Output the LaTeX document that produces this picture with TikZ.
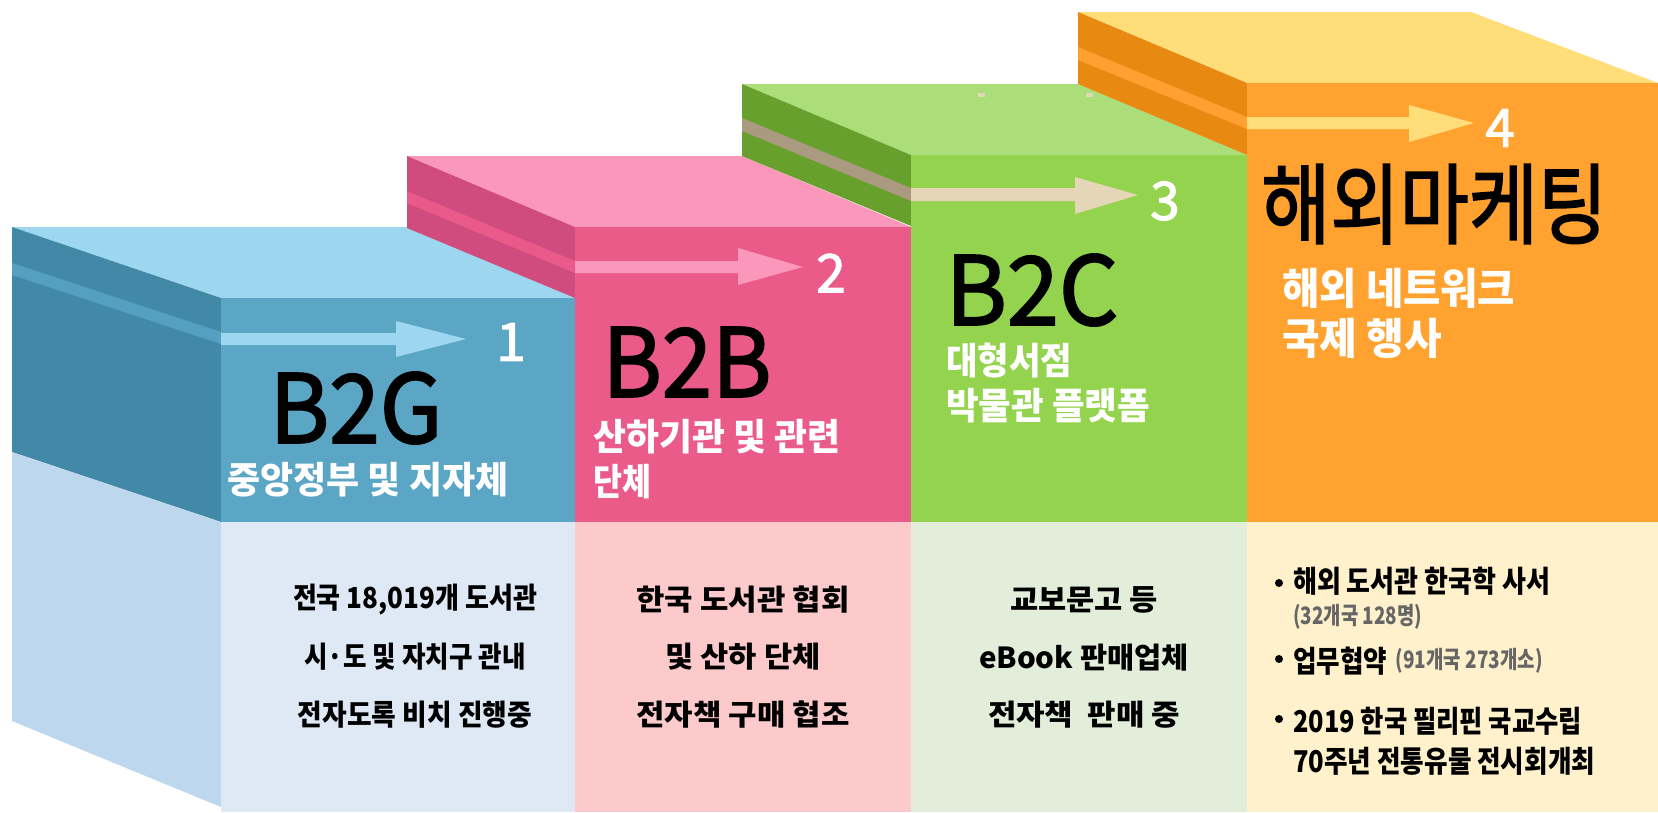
\documentclass[tikz,border=0pt]{standalone}
\usepackage{fontspec}
\setmainfont{Noto Sans CJK KR}
\newfontfamily\heavyfont[FakeBold=2]{Noto Sans CJK KR}
\usepackage{graphicx}
\usetikzlibrary{positioning}
\definecolor{bluetop}{HTML}{9DD7EF}
\definecolor{blueside}{HTML}{4289A8}
\definecolor{bluestripe}{HTML}{55A0C0}
\definecolor{bluefront}{HTML}{5BA5C5}
\definecolor{bluebase}{HTML}{DEE9F5}
\definecolor{bluebaseside}{HTML}{BDD7EE}
\definecolor{pinktop}{HTML}{FB97BB}
\definecolor{pinkside}{HTML}{D04C7E}
\definecolor{pinkstripe}{HTML}{E95A8A}
\definecolor{pinkfront}{HTML}{EA5B8A}
\definecolor{pinkbase}{HTML}{FCCACA}
\definecolor{greentop}{HTML}{ABDE78}
\definecolor{greenside}{HTML}{67A02C}
\definecolor{greenstripe}{HTML}{A99A80}
\definecolor{greenfront}{HTML}{93D34D}
\definecolor{greenarrow}{HTML}{E6D6B8}
\definecolor{greenbase}{HTML}{E2EED9}
\definecolor{orangetop}{HTML}{FFDE79}
\definecolor{orangeside}{HTML}{E88A12}
\definecolor{orangestripe}{HTML}{FFA030}
\definecolor{orangefront}{HTML}{FFA230}
\definecolor{orangebase}{HTML}{FFF1CC}
\definecolor{notegray}{HTML}{666666}
\newcommand{\fitw}[2]{\resizebox{#1pt}{\height}{#2}}
\tikzstyle{title} = [inner sep=0, font=\heavyfont\fontsize{95}{95}\selectfont]
\tikzstyle{num} = [inner sep=0, text=white, font=\heavyfont\fontsize{53}{53}\selectfont]
\tikzstyle{sub} = [inner sep=0, anchor=west, text=white, font=\bfseries\fontsize{37}{37}\selectfont]
\tikzstyle{note} = [inner sep=0, font=\bfseries\fontsize{29}{29}\selectfont]
\tikzstyle{item} = [inner sep=0, anchor=west, font=\bfseries\fontsize{30}{30}\selectfont]
\tikzstyle{itemgray} = [inner sep=0, anchor=west, text=notegray, font=\bfseries\fontsize{24}{24}\selectfont]

\begin{document}
\begin{tikzpicture}[x=1pt, y=-1pt]
\path[fill=white, use as bounding box] (0,0) rectangle (1658,812);

% B2G block
\fill[bluetop] (12,227) -- (407,227) -- (575,298) -- (221,298) -- cycle;
\fill[blueside] (12,227) -- (221,298) -- (221,522) -- (12,452) -- cycle;
\fill[bluestripe] (12,263) -- (221,332) -- (221,344) -- (12,275) -- cycle;
\fill[bluebaseside] (12,452) -- (221,522) -- (221,807) -- (12,721) -- cycle;
\fill[bluefront] (221,298) rectangle (575,522);
\fill[bluebase] (221,522) rectangle (575,812);
\fill[bluetop] (221,333) -- (396,333) -- (396,321) -- (466,339) -- (396,357) -- (396,345) -- (221,345) -- cycle;

% B2B block
\fill[pinktop] (407,156) -- (742,156) -- (911,227) -- (575,227) -- cycle;
\fill[pinkside] (407,156) -- (575,227) -- (575,298) -- (407,228) -- cycle;
\fill[pinkstripe] (407,191) -- (575,261) -- (575,273) -- (407,203) -- cycle;
\fill[pinkfront] (575,227) rectangle (911,522);
\fill[pinkbase] (575,522) rectangle (911,812);
\fill[pinktop] (575,261) -- (738,261) -- (738,248) -- (803,267) -- (738,285) -- (738,273) -- (575,273) -- cycle;

% B2C block
\fill[greentop] (742,84) -- (1078,84) -- (1247,155) -- (911,155) -- cycle;
\fill[greenside] (742,84) -- (911,155) -- (911,226) -- (742,156) -- cycle;
\fill[greenstripe] (742,118) -- (911,188) -- (911,201) -- (742,131) -- cycle;
\fill[greenfront] (911,155) rectangle (1247,522);
\fill[greenbase] (911,522) rectangle (1247,812);
\fill[greenarrow] (911,188) -- (1075,188) -- (1075,177) -- (1138,195) -- (1075,214) -- (1075,201) -- (911,201) -- cycle;
\fill[greenarrow] (978,93) rectangle (985,97);
\fill[greenarrow] (1086,93) rectangle (1093,97);

% overseas block
\fill[orangetop] (1078,12) -- (1471,12) -- (1658,83) -- (1247,83) -- cycle;
\fill[orangeside] (1078,12) -- (1247,83) -- (1247,155) -- (1078,84) -- cycle;
\fill[orangestripe] (1078,47) -- (1247,117) -- (1247,129) -- (1078,60) -- cycle;
\fill[orangefront] (1247,83) rectangle (1658,522);
\fill[orangebase] (1247,522) rectangle (1658,812);
\fill[orangetop] (1247,117) -- (1409,117) -- (1409,105) -- (1474,123) -- (1409,142) -- (1409,129) -- (1247,129) -- cycle;

% step numbers
\node[num] (n1) at (511,342) {1};
\node[num] (n2) at (831,273) {2};
\node[num] (n3) at (1165,201) {3};
\node[num] (n4) at (1500,128) {4};

% titles
\node[title] (b2g) at (356,408) {\fitw{173}{B2G}};
\node[title] (b2b) at (687,362) {\fitw{169}{B2B}};
\node[title] (b2c) at (1032,290) {\fitw{173}{B2C}};
\node[title, anchor=west, font=\heavyfont\fontsize{88}{88}\selectfont] (abroad) at (1261,204) {\fitw{346}{해외마케팅}};

\node[sub] (b2g-sub) at (227,480) {\fitw{281}{중앙정부 및 지자체}};
\node[sub] (b2b-sub1) at (593,437) {\fitw{247}{산하기관 및 관련}};
\node[sub] (b2b-sub2) at (593,482) {\fitw{58}{단체}};
\node[sub] (b2c-sub1) at (946,361) {\fitw{126}{대형서점}};
\node[sub] (b2c-sub2) at (946,406) {\fitw{204}{박물관 플랫폼}};
\node[sub, font=\bfseries\fontsize{43}{43}\selectfont] (abroad-sub1) at (1282,288) {\fitw{233}{해외 네트워크}};
\node[sub, font=\bfseries\fontsize{43}{43}\selectfont] (abroad-sub2) at (1282,338) {\fitw{160}{국제 행사}};

% notes under the blocks
\node[note] (g1) at (415,600) {\fitw{244}{전국 18,019개 도서관}};
\node[note] (g2) at (415,657) {\fitw{221}{시·도 및 자치구 관내}};
\node[note] (g3) at (415,715) {\fitw{234}{전자도록 비치 진행중}};
\node[note] (b1) at (743,600) {\fitw{213}{한국 도서관 협회}};
\node[note] (b2) at (743,657) {\fitw{155}{및 산하 단체}};
\node[note] (b3) at (743,715) {\fitw{213}{전자책 구매 협조}};
\node[note] (c1) at (1084,600) {\fitw{148}{교보문고 등}};
\node[note] (c2) at (1084,658) {\fitw{210}{eBook 판매업체}};
\node[note] (c3) at (1084,715) {\fitw{192}{전자책~ 판매 중}};

\fill (1279,583) circle (4);
\fill (1279,659) circle (4);
\fill (1279,719) circle (4);
\node[item] (o1) at (1293,581) {\fitw{257}{해외 도서관 한국학 사서}};
\node[itemgray] (o1n) at (1293,617) {\fitw{129}{(32개국 128명)}};
\node[item] (o2) at (1293,661) {\fitw{94}{업무협약}};
\node[itemgray, right=8 of o2] (o2n) {\fitw{147}{(91개국 273개소)}};
\node[item] (o3) at (1293,721) {\fitw{289}{2019 한국 필리핀 국교수립}};
\node[item] (o4) at (1293,761) {\fitw{302}{70주년 전통유물 전시회개최}};
\end{tikzpicture}
\end{document}
